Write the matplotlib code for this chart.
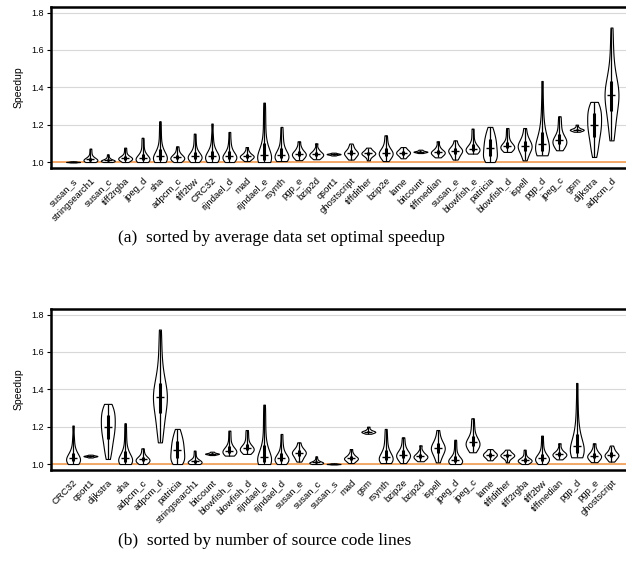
import numpy as np
import matplotlib
matplotlib.use("Agg")
import matplotlib.pyplot as plt

# speedup samples per benchmark
susan_s = [0.998, 0.999, 1.0, 1.0, 1.0, 1.001, 1.001, 1.002, 1.003, 1.004]
stringsearch1 = [1.0, 1.0, 1.002, 1.004, 1.006, 1.008, 1.01, 1.012, 1.014, 1.016, 1.018, 1.02, 1.024, 1.03, 1.04, 1.055, 1.072]
susan_c = [1.0, 1.0, 1.002, 1.004, 1.005, 1.006, 1.007, 1.008, 1.009, 1.01, 1.012, 1.014, 1.017, 1.022, 1.03, 1.041]
tiff2rgba = [1.0, 1.005, 1.008, 1.011, 1.014, 1.016, 1.018, 1.02, 1.022, 1.024, 1.027, 1.03, 1.035, 1.045, 1.06, 1.077]
jpeg_d = [1.0, 1.0, 1.003, 1.006, 1.009, 1.012, 1.015, 1.018, 1.021, 1.024, 1.028, 1.032, 1.038, 1.046, 1.06, 1.08, 1.105, 1.13]
sha = [1.0, 1.0, 1.004, 1.008, 1.012, 1.015, 1.018, 1.021, 1.025, 1.03, 1.035, 1.042, 1.05, 1.06, 1.075, 1.095, 1.13, 1.17, 1.218]
adpcm_c = [1.0, 1.004, 1.008, 1.012, 1.016, 1.019, 1.022, 1.025, 1.028, 1.032, 1.036, 1.042, 1.05, 1.065, 1.084]
tiff2bw = [1.0, 1.005, 1.01, 1.015, 1.02, 1.024, 1.027, 1.03, 1.034, 1.038, 1.044, 1.052, 1.065, 1.085, 1.115, 1.152]
crc32 = [1.0, 1.002, 1.006, 1.01, 1.015, 1.02, 1.024, 1.028, 1.032, 1.037, 1.043, 1.05, 1.06, 1.075, 1.1, 1.14, 1.206]
rijndael_d = [1.0, 1.004, 1.009, 1.014, 1.019, 1.023, 1.027, 1.031, 1.035, 1.04, 1.046, 1.055, 1.07, 1.09, 1.12, 1.161]
mad = [1.005, 1.012, 1.018, 1.022, 1.026, 1.029, 1.031, 1.034, 1.037, 1.042, 1.05, 1.06, 1.08]
rijndael_e = [1.0, 1.0, 1.003, 1.006, 1.01, 1.014, 1.018, 1.022, 1.027, 1.033, 1.04, 1.05, 1.06, 1.075, 1.095, 1.12, 1.16, 1.21, 1.26, 1.318]
rsynth = [1.005, 1.008, 1.012, 1.016, 1.02, 1.025, 1.03, 1.035, 1.04, 1.046, 1.053, 1.062, 1.075, 1.095, 1.12, 1.15, 1.188]
pgp_e = [1.01, 1.018, 1.025, 1.031, 1.036, 1.04, 1.044, 1.048, 1.053, 1.06, 1.07, 1.085, 1.111]
bzip2d = [1.015, 1.022, 1.028, 1.033, 1.037, 1.04, 1.043, 1.047, 1.052, 1.06, 1.072, 1.1]
qsort1 = [1.035, 1.038, 1.04, 1.041, 1.042, 1.043, 1.044, 1.045, 1.047, 1.05]
ghostscript = [1.013, 1.02, 1.027, 1.033, 1.038, 1.042, 1.045, 1.048, 1.052, 1.056, 1.06, 1.066, 1.075, 1.085, 1.099]
tiffdither = [1.009, 1.025, 1.033, 1.038, 1.042, 1.045, 1.048, 1.051, 1.055, 1.06, 1.067, 1.077]
bzip2e = [1.005, 1.015, 1.024, 1.031, 1.037, 1.042, 1.046, 1.05, 1.055, 1.061, 1.068, 1.078, 1.092, 1.115, 1.143]
lame = [1.02, 1.03, 1.037, 1.042, 1.046, 1.05, 1.054, 1.058, 1.063, 1.07, 1.08]
bitcount = [1.048, 1.051, 1.053, 1.054, 1.055, 1.056, 1.057, 1.059, 1.062, 1.066]
tiffmedian = [1.025, 1.033, 1.039, 1.044, 1.048, 1.051, 1.054, 1.058, 1.063, 1.07, 1.085, 1.111]
susan_e = [1.013, 1.025, 1.035, 1.043, 1.05, 1.056, 1.06, 1.064, 1.069, 1.075, 1.083, 1.095, 1.116]
blowfish_e = [1.045, 1.05, 1.055, 1.06, 1.064, 1.067, 1.07, 1.074, 1.079, 1.086, 1.097, 1.115, 1.145, 1.179]
patricia = [1.0, 1.005, 1.012, 1.02, 1.028, 1.036, 1.045, 1.054, 1.063, 1.072, 1.08, 1.09, 1.1, 1.11, 1.12, 1.13, 1.14, 1.155, 1.17, 1.188]
blowfish_d = [1.054, 1.062, 1.068, 1.073, 1.077, 1.08, 1.083, 1.087, 1.092, 1.099, 1.11, 1.13, 1.155, 1.182]
ispell = [1.009, 1.03, 1.045, 1.056, 1.065, 1.073, 1.08, 1.086, 1.092, 1.099, 1.107, 1.117, 1.13, 1.15, 1.182]
pgp_d = [1.036, 1.04, 1.045, 1.05, 1.056, 1.062, 1.068, 1.075, 1.082, 1.09, 1.098, 1.108, 1.12, 1.135, 1.155, 1.18, 1.21, 1.26, 1.33, 1.434]
jpeg_c = [1.063, 1.075, 1.085, 1.093, 1.1, 1.106, 1.111, 1.116, 1.122, 1.13, 1.14, 1.155, 1.18, 1.21, 1.245]
gsm = [1.162, 1.166, 1.169, 1.171, 1.172, 1.173, 1.175, 1.177, 1.181, 1.188, 1.2]
dijkstra = [1.027, 1.05, 1.07, 1.09, 1.105, 1.12, 1.135, 1.15, 1.16, 1.17, 1.18, 1.19, 1.2, 1.21, 1.22, 1.23, 1.24, 1.25, 1.26, 1.27, 1.28, 1.29, 1.3, 1.31, 1.322]
adpcm_d = [1.116, 1.15, 1.18, 1.21, 1.24, 1.26, 1.28, 1.3, 1.315, 1.33, 1.345, 1.355, 1.365, 1.375, 1.385, 1.4, 1.415, 1.43, 1.45, 1.48, 1.52, 1.57, 1.64, 1.72]

samples = {
    "susan_s": susan_s, "stringsearch1": stringsearch1, "susan_c": susan_c,
    "tiff2rgba": tiff2rgba, "jpeg_d": jpeg_d, "sha": sha, "adpcm_c": adpcm_c,
    "tiff2bw": tiff2bw, "CRC32": crc32, "rijndael_d": rijndael_d, "mad": mad,
    "rijndael_e": rijndael_e, "rsynth": rsynth, "pgp_e": pgp_e, "bzip2d": bzip2d,
    "qsort1": qsort1, "ghostscript": ghostscript, "tiffdither": tiffdither,
    "bzip2e": bzip2e, "lame": lame, "bitcount": bitcount, "tiffmedian": tiffmedian,
    "susan_e": susan_e, "blowfish_e": blowfish_e, "patricia": patricia,
    "blowfish_d": blowfish_d, "ispell": ispell, "pgp_d": pgp_d, "jpeg_c": jpeg_c,
    "gsm": gsm, "dijkstra": dijkstra, "adpcm_d": adpcm_d,
}

# (a) sorted by average data set optimal speedup
order_a = ["susan_s", "stringsearch1", "susan_c", "tiff2rgba", "jpeg_d", "sha",
           "adpcm_c", "tiff2bw", "CRC32", "rijndael_d", "mad", "rijndael_e",
           "rsynth", "pgp_e", "bzip2d", "qsort1", "ghostscript", "tiffdither",
           "bzip2e", "lame", "bitcount", "tiffmedian", "susan_e", "blowfish_e",
           "patricia", "blowfish_d", "ispell", "pgp_d", "jpeg_c", "gsm",
           "dijkstra", "adpcm_d"]
# (b) sorted by number of source code lines
order_b = ["CRC32", "qsort1", "dijkstra", "sha", "adpcm_c", "adpcm_d", "patricia",
           "stringsearch1", "bitcount", "blowfish_e", "blowfish_d", "rijndael_e",
           "rijndael_d", "susan_e", "susan_c", "susan_s", "mad", "gsm", "rsynth",
           "bzip2e", "bzip2d", "ispell", "jpeg_d", "jpeg_c", "lame", "tiffdither",
           "tiff2rgba", "tiff2bw", "tiffmedian", "pgp_d", "pgp_e", "ghostscript"]

yticks = [1.0, 1.2, 1.4, 1.6, 1.8]
captions = ["(a)  sorted by average data set optimal speedup",
            "(b)  sorted by number of source code lines"]

W, H = 626, 575
fig = plt.figure(figsize=(W / 100, H / 100), dpi=100)


def draw_panel(ax, order):
    data = [np.array(samples[n]) for n in order]
    pos = np.arange(len(order))
    ax.axhline(1.0, color="#f5a35c", lw=1.3, zorder=1)
    parts = ax.violinplot(data, positions=pos, widths=0.8, showextrema=False,
                          bw_method=0.45)
    for body in parts["bodies"]:
        body.set_facecolor("white")
        body.set_edgecolor("black")
        body.set_linewidth(0.8)
        body.set_alpha(1)
        body.set_zorder(2)
    lo = [d.min() for d in data]
    hi = [d.max() for d in data]
    q1 = [np.percentile(d, 25) for d in data]
    q3 = [np.percentile(d, 75) for d in data]
    med = [np.median(d) for d in data]
    ax.vlines(pos, lo, hi, color="black", lw=0.9, zorder=3)
    ax.vlines(pos, q1, q3, color="black", lw=2.2, zorder=3)
    ax.plot(pos, med, ls="none", marker="_", ms=6, mew=1.0, color="black", zorder=4)

    ax.set_xlim(-1.27, len(order) - 1 + 0.95)
    ax.set_ylim(0.968, 1.83)
    ax.set_yticks(yticks)
    ax.set_yticklabels(["%.1f" % t for t in yticks], fontsize=6.5)
    ax.yaxis.grid(True, color="#d8d8d8", lw=0.8)
    ax.set_axisbelow(True)
    ax.set_xticks(pos)
    ax.set_xticklabels(order, rotation=45, ha="right", va="top",
                       rotation_mode="anchor", fontsize=6.8)
    ax.tick_params(axis="x", length=0, pad=6)
    ax.tick_params(axis="y", length=3, width=0.8, pad=2)
    ax.set_ylabel("Speedup", fontsize=7.5, labelpad=6)
    for s in ["top", "bottom", "left"]:
        ax.spines[s].set_linewidth(1.8)
    ax.spines["right"].set_visible(False)


plt.rcParams["font.family"] = ["Liberation Sans", "DejaVu Sans"]

ax_a = fig.add_axes([51 / W, 1 - 168 / H, 577 / W, 161 / H])
draw_panel(ax_a, order_a)
ax_b = fig.add_axes([51 / W, 1 - 470 / H, 577 / W, 161 / H])
draw_panel(ax_b, order_b)

fig.text(118 / W, 1 - 238 / H, captions[0], ha="left", va="center",
         family="Liberation Serif", fontsize=12.5)
fig.text(118 / W, 1 - 541 / H, captions[1], ha="left", va="center",
         family="Liberation Serif", fontsize=12.5)

fig.savefig("out.png", dpi=100)
